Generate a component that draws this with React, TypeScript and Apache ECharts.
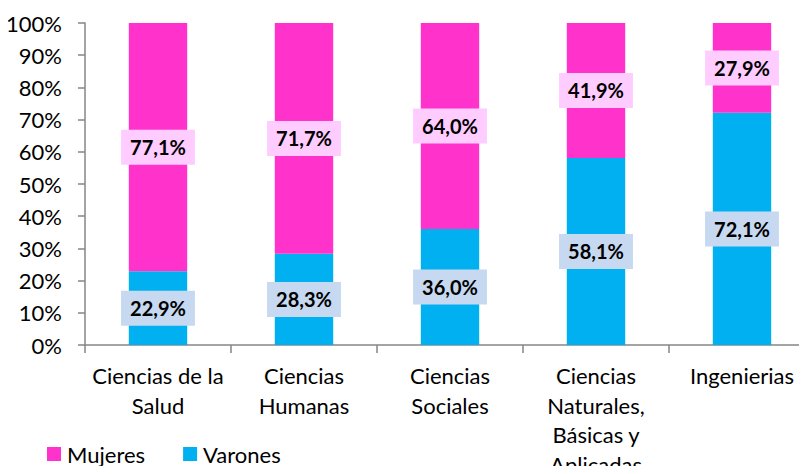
import React, { useEffect, useRef } from "react";
import * as echarts from "echarts";

const categories = [
  "Ciencias de la\nSalud",
  "Ciencias\nHumanas",
  "Ciencias\nSociales",
  "Ciencias\nNaturales,\nBásicas y\nAplicadas",
  "Ingenierias",
];
const varones = [22.9, 28.3, 36.0, 58.1, 72.1];
const mujeres = [77.1, 71.7, 64.0, 41.9, 27.9];
const yTicks = [0, 10, 20, 30, 40, 50, 60, 70, 80, 90, 100];

const FONT = "Lato, 'Open Sans', sans-serif";

const fmt = (v: number) => v.toFixed(1).replace(".", ",") + "%";

export default function App() {
  const ref = useRef<HTMLDivElement>(null);
  useEffect(() => {
    if (!ref.current) return;
    const chart = echarts.init(ref.current, null, { renderer: "svg" });
    const labelCommon = {
      show: true,
      position: "inside" as const,
      fontFamily: FONT,
      fontWeight: "bold" as const,
      fontSize: 20,
      color: "#000",
      padding: [8, 9, 7, 9],
      formatter: (p: any) => fmt(p.value),
    };
    chart.setOption({
      animation: false,
      textStyle: { fontFamily: FONT },
      grid: {
        left: 85,
        top: 23,
        bottom: 129,
        right: -8,
        containLabel: false,
        outerBoundsMode: "none",
      },
      legend: {
        data: ["Mujeres", "Varones"],
        left: 42,
        top: 438,
        itemWidth: 14,
        itemHeight: 14,
        itemGap: 38,
        icon: "rect",
        textStyle: { fontFamily: FONT, fontSize: 22, color: "#000", padding: [0, 0, 0, 1] },
      },
      xAxis: {
        type: "category",
        data: categories,
        axisLine: { lineStyle: { color: "#868686", width: 1.5 } },
        axisTick: { show: true, length: 8, lineStyle: { color: "#868686", width: 1.5 } },
        axisLabel: {
          fontFamily: FONT,
          fontSize: 22,
          color: "#000",
          lineHeight: 29.5,
          margin: 16,
          interval: 0,
        },
      },
      yAxis: {
        type: "value",
        min: 0,
        max: 100,
        interval: 10,
        axisLine: { show: true, lineStyle: { color: "#868686", width: 1.5 } },
        axisTick: { show: true, length: 7, lineStyle: { color: "#868686", width: 1.5 } },
        splitLine: { show: false },
        axisLabel: {
          fontFamily: FONT,
          fontSize: 22,
          color: "#000",
          margin: 23,
          formatter: (v: number) => (yTicks.includes(v) ? v + "%" : ""),
        },
      },
      series: [
        {
          name: "Varones",
          type: "bar",
          stack: "total",
          barWidth: "40%",
          data: varones,
          itemStyle: { color: "#00B0F0" },
          label: { ...labelCommon, backgroundColor: "#C6D9F0" },
        },
        {
          name: "Mujeres",
          type: "bar",
          stack: "total",
          barWidth: "40%",
          data: mujeres,
          itemStyle: { color: "#FF33CC" },
          label: { ...labelCommon, backgroundColor: "#FFCCFF" },
        },
      ],
    });
    return () => chart.dispose();
  }, []);
  return <div ref={ref} style={{ width: 807, height: 474, margin: -8 }} />;
}
